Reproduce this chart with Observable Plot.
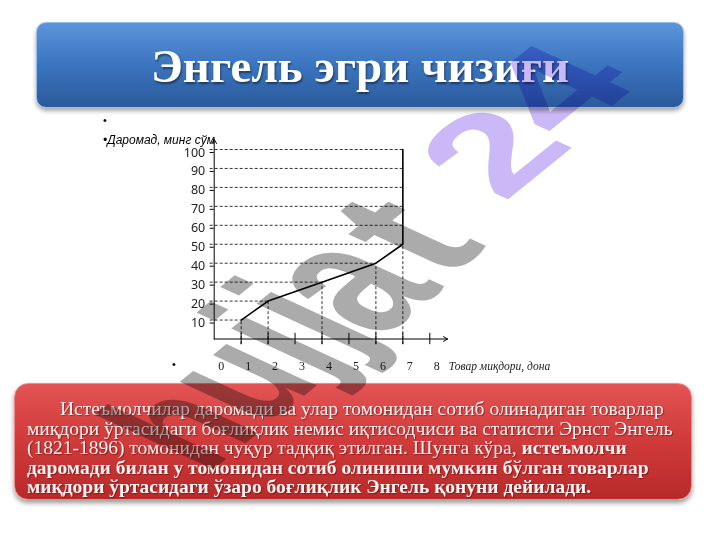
<!DOCTYPE html>
<html><head><meta charset="utf-8">
<script src="https://cdn.jsdelivr.net/npm/d3@7"></script>
<script src="https://cdn.jsdelivr.net/npm/@observablehq/plot@0.6"></script>
<style>
html,body{margin:0;padding:0;background:#fff;}
#slide{position:relative;width:720px;height:540px;overflow:hidden;background:#fff;font-family:"Liberation Sans",Arial,sans-serif;}
#title{position:absolute;left:36px;top:22px;width:648px;height:86px;border-radius:10px;background:linear-gradient(#5c94da,#3b75bf 50%,#2b5a9c);box-shadow:0 3px 4px rgba(0,0,0,0.35);border:1px solid #9dbde6;box-sizing:border-box;display:flex;align-items:center;justify-content:center;padding-top:2px;color:#fff;font-family:"Liberation Serif","Times New Roman",serif;font-weight:bold;font-size:47px;text-shadow:1px 2px 2px rgba(0,0,0,0.45);}
#chart{position:absolute;left:160px;top:130px;}
.bul{position:absolute;font-size:11px;color:#000;}
#ylab{position:absolute;left:103px;top:133px;font-size:12px;font-style:italic;color:#000;white-space:nowrap;}
#note{position:absolute;left:14px;top:383px;width:678px;height:117px;border-radius:14px;background:linear-gradient(#e35454,#d23c3c 45%,#b82a2a);box-shadow:0 3px 5px rgba(0,0,0,0.4);border:1px solid #f08a8a;box-sizing:border-box;padding:15px 0 0 12px;color:#fff4f4;font-family:"Liberation Serif","Times New Roman",serif;font-size:19.5px;line-height:19.5px;white-space:nowrap;text-shadow:1px 1px 1px rgba(90,0,0,0.5);}
#note b{font-weight:bold;}
#wm{position:absolute;left:0;top:0;mix-blend-mode:multiply;pointer-events:none;}
</style>
</head><body>
<div id="slide">
  <div id="title">Энгель эгри чизиғи</div>
  <div class="bul" style="left:103px;top:114px;">•</div>
  <div id="ylab">•Даромад, минг сўм</div>
  <div class="bul" style="left:172px;top:358px;">•</div>
  <div id="chart"></div>
  <div id="note"><span style="padding-left:33px"></span>Истеъмолчилар даромади ва улар томонидан сотиб олинадиган товарлар<br>миқдори ўртасидаги боғлиқлик немис иқтисодчиси ва статисти Эрнст Энгель<br>(1821-1896) томонидан чуқур тадқиқ этилган. Шунга кўра, <b>истеъмолчи</b><br><b>даромади билан у томонидан сотиб олиниши мумкин бўлган товарлар</b><br><b>миқдори ўртасидаги ўзаро боғлиқлик Энгель қонуни дейилади.</b></div>
  <svg id="wm" width="720" height="540"></svg>
</div>
<script>
// Engel curve data: goods quantity vs income
const goods = [1, 2, 4, 6, 7, 7];
const income = [10, 20, 30, 40, 50, 100];
const yTicks = [10, 20, 30, 40, 50, 60, 70, 80, 90, 100];
const xTickLabels = [0, 1, 2, 3, 4, 5, 6, 7, 8];
const xTickMarks = [1, 2, 3, 4, 5, 6, 7, 8];
const xTitle = "Товар миқдори, дона";
const axisEnd = {x: 8.66, y: 105.3};

const curve = goods.map((g, i) => ({goods: g, income: income[i]}));
const corners = curve.slice(0, 5);
const xAt = d3.scaleLinear().domain(income).range(goods).clamp(true);
const guides = yTicks.map(v => ({income: v, goods: xAt(v)}));

const chart = Plot.plot({
  width: 420, height: 240,
  marginLeft: 53.7, marginRight: 150.7, marginTop: 19, marginBottom: 31.5,
  x: {domain: [0, 8], axis: null},
  y: {domain: [0, 100]},
  style: {background: "transparent", overflow: "visible"},
  marks: [
    Plot.ruleY(guides, {y: "income", x1: -0.15, x2: "goods", stroke: "#000", strokeWidth: 0.8, strokeDasharray: "3,2"}),
    Plot.ruleX(corners, {x: "goods", y1: -3, y2: "income", stroke: "#000", strokeWidth: 0.8, strokeDasharray: "3,2"}),
    Plot.ruleX(xTickMarks, {x: d => d, y1: -3, y2: 3, stroke: "#000", strokeWidth: 1}),
    Plot.arrow([axisEnd], {x1: 0, y1: 0, x2: 0, y2: d => d.y, stroke: "#000", strokeWidth: 1, headLength: 7}),
    Plot.arrow([axisEnd], {x1: 0, y1: 0, x2: d => d.x, y2: 0, stroke: "#000", strokeWidth: 1, headLength: 7}),
    Plot.axisY({ticks: yTicks, tickSize: 4, tickPadding: 5, dy: 3, fontSize: 12.5, label: null, fill: "#222"}),
    Plot.line(curve, {x: "goods", y: "income", stroke: "#000", strokeWidth: 1.6}),
    Plot.text(xTickLabels, {x: d => d, y: 0, dx: 7, dy: 27, fontSize: 12, fontFamily: "Liberation Serif, Times New Roman, serif", fill: "#222"}),
    Plot.text([xTitle], {x: 8, y: 0, text: d => d, dx: 19, dy: 27, textAnchor: "start", fontSize: 11.5, fontStyle: "italic", fontFamily: "Liberation Serif, Times New Roman, serif", fill: "#222"})
  ]
});
document.getElementById("chart").appendChild(chart);

// Decorative watermark of the source slide (skewed letters), not chart data
const wmLetters = [
  {ch: "h", X: -347, Y: 555, F: 120, k: 1.5, fill: "#ababab"},
  {ch: "u", X: -272, Y: 555, F: 125, k: 1.5, fill: "#ababab"},
  {ch: "j", X: -215.6, Y: 549, F: 130, k: 1.5, fill: "#ababab"},
  {ch: "j", X: -178.2, Y: 549, F: 135, k: 1.5, fill: "#ababab"},
  {ch: "a", X: -125, Y: 560, F: 150, k: 1.5, fill: "#ababab"},
  {ch: "t", X: -48, Y: 554, F: 170, k: 1.2, fill: "#ababab"},
  {ch: "2", X: 77, Y: 528, F: 170, k: 0.9, fill: "#cbb8f6"},
  {ch: "4", X: 170, Y: 520, F: 175, k: 0.9, fill: "#cbb8f6"}
];
const wmU = [0.777, -0.629], wmV = [0.91, 0.42];
d3.select("#wm").selectAll("text").data(wmLetters).join("text")
  .attr("transform", d => `translate(${d.X * wmU[0] + d.Y * wmV[0]},${d.X * wmU[1] + d.Y * wmV[1]}) matrix(${wmU[0]},${wmU[1]},${wmV[0] * d.k},${wmV[1] * d.k},0,0)`)
  .attr("text-anchor", "middle")
  .attr("font-family", "Liberation Sans, Arial, sans-serif")
  .attr("font-weight", "bold")
  .attr("font-size", d => d.F)
  .attr("fill", d => d.fill)
  .text(d => d.ch);
</script>
</body></html>
